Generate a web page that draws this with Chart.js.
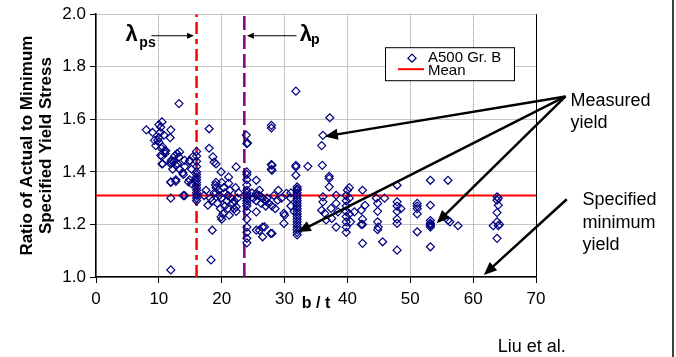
<!DOCTYPE html>
<html>
<head>
<meta charset="utf-8">
<script src="https://cdn.jsdelivr.net/npm/chart.js@4/dist/chart.umd.min.js"></script>
<style>
  html, body { margin: 0; padding: 0; background: #fff; }
  #wrap { width: 676px; height: 357px; position: relative; }
</style>
</head>
<body>
<div id="wrap"><canvas id="chart" width="676" height="357"></canvas></div>
<script>
// ---- data ----
const btValues = [
  8.0, 9.0, 9.3, 9.5, 10.0, 10.3, 10.5, 10.2, 10.0, 10.8, 9.8, 10.4, 10.9, 10.5, 11.0, 11.9, 11.8,
  10.5, 11.9, 12.0, 12.5, 12.9, 12.4, 13.0, 13.3, 12.2, 14.1, 13.9, 14.9, 15.2, 11.9, 12.7, 14.9,
  15.2, 11.9, 13.9, 14.1, 13.2, 11.9, 10.0, 10.6, 11.1, 10.3, 13.3, 13.2, 11.9, 12.7, 14.1, 14.9,
  15.4, 10.6, 13.8, 11.9, 12.7, 14.7,
  16, 16, 16, 16, 16, 16, 16, 16, 16, 16, 16, 16, 16, 16, 16, 16,
  18.0, 18.0, 18.6, 18.8, 19.1, 19.1, 19.1, 19.1, 17.8, 18.5, 18.3, 17.5, 18.2, 18.5, 17.2,
  19.0, 19.5, 20.0, 20.3, 20.5, 20.0, 20.8, 21.0, 21.3, 21.5, 21.8, 22.0, 22.3, 20.5, 19.8, 19.3,
  20.2, 21.2, 22.5, 22.7, 22.2, 19.9, 21.1, 21.1, 22.3, 22.3, 19.9, 20.0, 21.0, 22.0, 18.8, 19.6,
  23.9, 24.1, 24, 24, 24, 24, 24, 24, 24, 24, 24, 24, 24, 24, 24, 24, 24, 24, 24, 24,
  25.5, 25.5, 25.5, 25.5, 26.5, 26.5, 25.5, 26.0, 26.8, 27.8, 28.0, 28.0, 28.0, 27.9, 27.9, 27.9,
  27.9, 26.0, 26.5, 27.0, 27.5, 28.0, 28.5, 26.3, 27.0, 28.9, 30.3, 29.9, 29.9, 30.0, 29.5, 25.0,
  25.5, 24.8, 26.0, 27.2, 28.3, 29.0,
  31.8, 31.8, 31.8, 31.8, 32, 32, 32, 32, 32, 32, 32, 32, 32, 32, 32, 32, 32, 32, 32, 32, 32, 32,
  32, 32, 31, 31, 31, 31.5,
  33.7, 36.0, 36.1, 35.9, 37.2, 37.1, 37.1, 37.1, 36.1, 36.1, 35.9, 36.4, 36.6, 37.4, 37.5, 38.2,
  38.2, 38.5, 38.2, 39.8, 39.8, 39.8, 39.8, 39.8, 39.8, 39.8, 39.8, 40.3, 40.3, 40.5, 41.1, 42.2,
  42.4, 42.4, 42.8, 42.4, 42.2, 44.8, 44.8, 44.8, 44.8, 44.9, 45.6, 44.6, 42.4, 45.9, 40.0, 40.3,
  47.9, 47.9, 47.9, 47.9, 47.9, 47.9, 47.9, 48.5, 51.1, 51.1, 51.1, 51.1, 51.1, 53.2, 53.2, 53.2,
  53.2, 53.2, 53.2, 53.2, 53.2, 56.0, 56.0, 56.3, 57.6,
  63.8, 63.8, 64.0, 63.8, 63.8, 63.2, 64.0, 63.8, 64.0, 64.2
];
const yieldRatio = [
  1.56, 1.55, 1.52, 1.50, 1.58, 1.57, 1.59, 1.55, 1.53, 1.54, 1.52, 1.49, 1.48, 1.46, 1.47, 1.56, 1.53,
  1.43, 1.43, 1.445, 1.46, 1.47, 1.44, 1.43, 1.41, 1.41, 1.42, 1.39, 1.44, 1.41, 1.36, 1.37, 1.37,
  1.355, 1.30, 1.31, 1.31, 1.66, 1.027, 1.513, 1.495, 1.48, 1.463, 1.476, 1.457, 1.438, 1.425, 1.444, 1.444,
  1.457, 1.431, 1.397, 1.362, 1.364, 1.362,
  1.478, 1.46, 1.44, 1.42, 1.40, 1.39, 1.38, 1.37, 1.36, 1.35, 1.34, 1.33, 1.32, 1.31, 1.30, 1.29,
  1.564, 1.49, 1.457, 1.437, 1.43, 1.36, 1.34, 1.32, 1.273, 1.178, 1.065, 1.33, 1.30, 1.29, 1.31,
  1.35, 1.33, 1.36, 1.34, 1.32, 1.30, 1.29, 1.31, 1.33, 1.30, 1.28, 1.26, 1.25, 1.27, 1.26, 1.28,
  1.24, 1.235, 1.30, 1.32, 1.34, 1.40, 1.38, 1.356, 1.419, 1.267, 1.229, 1.22, 1.26, 1.29, 1.32, 1.31,
  1.54, 1.51, 1.507, 1.40, 1.39, 1.37, 1.35, 1.33, 1.32, 1.31, 1.30, 1.29, 1.28, 1.27, 1.25, 1.22, 1.19, 1.17, 1.147, 1.13,
  1.368, 1.31, 1.248, 1.318, 1.19, 1.153, 1.178, 1.178, 1.191, 1.166, 1.166, 1.425, 1.406, 1.428, 1.41, 1.577,
  1.567, 1.31, 1.30, 1.29, 1.28, 1.27, 1.26, 1.28, 1.27, 1.292, 1.318, 1.242, 1.204, 1.235, 1.30, 1.30,
  1.29, 1.32, 1.33, 1.30, 1.31, 1.33,
  1.707, 1.425, 1.419, 1.387, 1.343, 1.335, 1.33, 1.32, 1.31, 1.30, 1.29, 1.28, 1.27, 1.26, 1.25, 1.24, 1.23, 1.22,
  1.21, 1.20, 1.19, 1.18, 1.17, 1.16, 1.32, 1.30, 1.27, 1.25,
  1.421, 1.425, 1.539, 1.50, 1.606, 1.383, 1.375, 1.343, 1.305, 1.286, 1.254, 1.242, 1.217, 1.261, 1.223, 1.311,
  1.28, 1.248, 1.19, 1.31, 1.29, 1.27, 1.25, 1.23, 1.21, 1.19, 1.17, 1.30, 1.24, 1.21, 1.248, 1.254,
  1.22, 1.20, 1.273, 1.128, 1.20, 1.28, 1.25, 1.21, 1.18, 1.19, 1.134, 1.30, 1.33, 1.30, 1.33, 1.34,
  1.349, 1.286, 1.27, 1.25, 1.22, 1.204, 1.102, 1.26, 1.28, 1.27, 1.26, 1.24, 1.172, 1.368, 1.273, 1.215,
  1.205, 1.20, 1.195, 1.19, 1.115, 1.368, 1.216, 1.21, 1.195,
  1.305, 1.292, 1.273, 1.245, 1.21, 1.195, 1.195, 1.147, 1.30, 1.20
];
const meanRatio = 1.31;
const lambdaPs = 16;
const lambdaP = 23.6;
const xRange = [0, 70];
const yRange = [1.0, 2.0];

// ---- chart ----
const points = btValues.map((b, i) => ({ x: b, y: yieldRatio[i] }));

function arrow(ctx, x1, y1, x2, y2, len, half) {
  const ang = Math.atan2(y2 - y1, x2 - x1);
  ctx.beginPath();
  ctx.moveTo(x1, y1);
  ctx.lineTo(x2 - Math.cos(ang) * len * 0.6, y2 - Math.sin(ang) * len * 0.6);
  ctx.stroke();
  ctx.beginPath();
  ctx.moveTo(x2, y2);
  ctx.lineTo(x2 - Math.cos(ang) * len + Math.sin(ang) * half, y2 - Math.sin(ang) * len - Math.cos(ang) * half);
  ctx.lineTo(x2 - Math.cos(ang) * len - Math.sin(ang) * half, y2 - Math.sin(ang) * len + Math.cos(ang) * half);
  ctx.closePath();
  ctx.fill();
}

const notes = {
  id: 'notes',
  afterDraw(chart) {
    const { ctx, chartArea: a, scales: { x, y } } = chart;
    const px = v => x.getPixelForValue(v), py = v => y.getPixelForValue(v);
    ctx.save();
    ctx.fillStyle = '#000';
    ctx.strokeStyle = '#000';

    // right edge of the figure frame
    ctx.lineWidth = 1.5;
    ctx.beginPath();
    ctx.moveTo(chart.width - 3, 0);
    ctx.lineTo(chart.width - 3, chart.height);
    ctx.stroke();

    // plot area right border
    ctx.lineWidth = 1;
    ctx.beginPath();
    ctx.moveTo(a.right + 0.5, a.top);
    ctx.lineTo(a.right + 0.5, a.bottom);
    ctx.stroke();

    // lambda labels
    ctx.textBaseline = 'alphabetic';
    ctx.textAlign = 'left';
    ctx.font = 'bold 22px "Liberation Sans", Arial, sans-serif';
    ctx.fillText('λ', px(4.7), py(1.899));
    ctx.fillText('λ', px(32.4), py(1.899));
    ctx.font = 'bold 14px "Liberation Sans", Arial, sans-serif';
    ctx.fillText('ps', px(6.9), py(1.877));
    ctx.fillText('p', px(34.2), py(1.885));
    ctx.lineWidth = 1;
    arrow(ctx, px(8.8), py(1.918), px(15.6), py(1.918), 7, 3);
    arrow(ctx, px(31.9), py(1.918), px(24.0), py(1.918), 7, 3);

    // measured yield callout
    ctx.lineWidth = 2.5;
    const mo = [74.7, 1.687];
    [[36.4, 1.535], [32.1, 1.171], [54.2, 1.205]].forEach(t =>
      arrow(ctx, px(mo[0]), py(mo[1]), px(t[0]), py(t[1]), 13, 5.5));
    arrow(ctx, px(74.9), py(1.296), px(61.7), py(1.008), 13, 5.5);

    ctx.font = '18px "Liberation Sans", Arial, sans-serif';
    ctx.textBaseline = 'middle';
    ctx.fillText('Measured', px(75.5), py(1.668));
    ctx.fillText('yield', px(75.5), py(1.584));
    ctx.fillText('Specified', px(77.4), py(1.292));
    ctx.fillText('minimum', px(77.4), py(1.207));
    ctx.fillText('yield', px(77.4), py(1.121));
    ctx.fillText('Liu et al.', px(63.9), py(0.734));

    // legend box
    const lx = a.left + 289, ly = a.top + 33;
    ctx.fillStyle = '#fff';
    ctx.fillRect(lx, ly, 129, 33);
    ctx.lineWidth = 1;
    ctx.strokeStyle = '#000';
    ctx.strokeRect(lx + 0.5, ly + 0.5, 129, 33);
    const ds = chart.data.datasets;
    Chart.helpers.drawPoint(ctx, {
      pointStyle: 'rectRot', radius: 4, borderWidth: 1.2
    }, lx + 27, ly + 11);
    ctx.strokeStyle = ds[0].borderColor;
    ctx.lineWidth = 1.2;
    Chart.helpers.drawPoint(ctx, { pointStyle: 'rectRot', radius: 4, borderWidth: 1.2 }, lx + 27, ly + 11);
    ctx.strokeStyle = ds[1].borderColor;
    ctx.lineWidth = 2;
    ctx.beginPath();
    ctx.moveTo(lx + 13, ly + 22);
    ctx.lineTo(lx + 39, ly + 22);
    ctx.stroke();
    ctx.fillStyle = '#000';
    ctx.font = '15px "Liberation Sans", Arial, sans-serif';
    ctx.fillText(ds[0].label, lx + 43, ly + 11);
    ctx.fillText(ds[1].label, lx + 43, ly + 24);
    ctx.restore();
  }
};

const gridStyle = { color: '#8a8a8a', tickColor: '#000', tickLength: 6, tickBorderDash: [] };
const tickFont = { family: '"Liberation Sans", Arial, sans-serif', size: 17 };

new Chart(document.getElementById('chart'), {
  type: 'scatter',
  data: {
    datasets: [
      {
        label: 'A500 Gr. B',
        data: points,
        pointStyle: 'rectRot',
        pointRadius: 4,
        borderColor: '#000080',
        backgroundColor: 'rgba(0,0,0,0)',
        borderWidth: 1.2,
        order: 1
      },
      {
        type: 'line',
        label: 'Mean',
        data: [{ x: xRange[0], y: meanRatio }, { x: xRange[1], y: meanRatio }],
        borderColor: '#ff0000',
        borderWidth: 2,
        pointRadius: 0,
        order: 2
      },
      {
        type: 'line',
        label: 'lambda_ps',
        data: [{ x: lambdaPs, y: yRange[0] }, { x: lambdaPs, y: yRange[1] }],
        borderColor: '#ff0000',
        borderWidth: 2.5,
        borderDash: [12, 5, 5, 5],
        pointRadius: 0,
        order: 3
      },
      {
        type: 'line',
        label: 'lambda_p',
        data: [{ x: lambdaP, y: yRange[0] }, { x: lambdaP, y: yRange[1] }],
        borderColor: '#800080',
        borderWidth: 2.5,
        borderDash: [14, 5],
        pointRadius: 0,
        order: 4
      }
    ]
  },
  options: {
    responsive: false,
    animation: false,
    layout: { padding: { left: 0, top: 14, right: 140, bottom: 0 } },
    plugins: { legend: { display: false }, tooltip: { enabled: false } },
    scales: {
      x: {
        type: 'linear',
        min: xRange[0], max: xRange[1],
        afterFit: s => { s.height = 80; },
        grid: gridStyle,
        border: { color: '#000', width: 1.5, dash: [1, 1] },
        ticks: { stepSize: 10, color: '#000', font: tickFont, padding: 6 },
        title: {
          display: true, text: 'b / t', color: '#000',
          font: { family: '"Liberation Sans", Arial, sans-serif', size: 16, weight: 'bold' },
          padding: { top: 0, bottom: 44 }
        }
      },
      y: {
        type: 'linear',
        min: yRange[0], max: yRange[1],
        afterFit: s => { s.width = 96; },
        grid: gridStyle,
        border: { color: '#000', width: 1.5, dash: [1, 1] },
        ticks: { stepSize: 0.2, color: '#000', font: tickFont, padding: 4, callback: v => v.toFixed(1) },
        title: {
          display: true,
          text: ['Ratio of Actual to Minimum', 'Specified Yield Stress'],
          color: '#000',
          font: { family: '"Liberation Sans", Arial, sans-serif', size: 17, weight: 'bold', lineHeight: 1.12 },
          padding: { top: 17.5, bottom: 0 }
        }
      }
    }
  },
  plugins: [notes]
});
</script>
</body>
</html>
